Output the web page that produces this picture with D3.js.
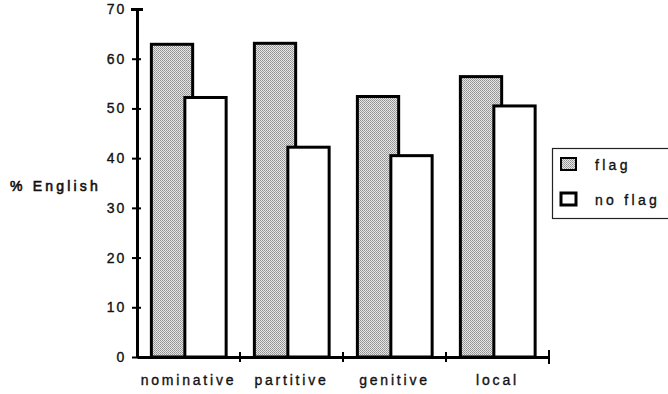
<!DOCTYPE html>
<html><head><meta charset="utf-8">
<script src="https://cdn.jsdelivr.net/npm/d3@7"></script>
<style>
body{margin:0;background:#fff;}
svg{display:block;}
text{font-family:"Liberation Sans",Arial,Helvetica,sans-serif;fill:#111;stroke:#111;stroke-width:0.35px;}
</style></head>
<body>
<svg id="chart" width="668" height="394"></svg>
<script>
const categories = ["nominative","partitive","genitive","local"];
const flagValues = [62.9, 63.1, 52.4, 56.4];
const noFlagValues = [52.2, 42.2, 40.5, 50.5];
const yTicks = [0,10,20,30,40,50,60,70];
const seriesNames = ["flag","no flag"];
const yLabel = "% English";

const svg = d3.select("#chart");
const defs = svg.append("defs");
const pat = defs.append("pattern").attr("id","stip").attr("patternUnits","userSpaceOnUse")
  .attr("width",2).attr("height",2);
pat.append("rect").attr("width",2).attr("height",2).attr("fill","#e6e6e6");
pat.append("rect").attr("width",1).attr("height",1).attr("fill","#909090");
pat.append("rect").attr("x",1).attr("y",1).attr("width",1).attr("height",1).attr("fill","#a0a0a0");

const x = d3.scaleBand().domain(categories).range([137,549]).padding(0);
const y = d3.scaleLinear().domain([0,70]).range([357,9]);
const bw = x.bandwidth();
const sw = 3;

const data = categories.map((c,i)=>({c, flag:flagValues[i], noflag:noFlagValues[i]}));

// flag bars
svg.append("g").selectAll("rect").data(data).join("rect")
  .attr("x", d=>x(d.c)+bw*0.125+sw/2)
  .attr("width", bw*0.43-sw)
  .attr("y", d=>y(d.flag))
  .attr("height", d=>y(0)-y(d.flag))
  .attr("fill","url(#stip)").attr("stroke","#000").attr("stroke-width",sw);
// no flag bars
svg.append("g").selectAll("rect").data(data).join("rect")
  .attr("x", d=>x(d.c)+bw*0.45+sw/2)
  .attr("width", bw*0.43-sw)
  .attr("y", d=>y(d.noflag))
  .attr("height", d=>y(0)-y(d.noflag))
  .attr("fill","#fff").attr("stroke","#000").attr("stroke-width",sw);

// y axis
const yAxis = svg.append("g").attr("transform","translate(137,0)")
  .call(d3.axisLeft(y).tickValues(yTicks).tickSize(5).tickSizeOuter(0).tickPadding(6));
yAxis.select(".domain").attr("stroke","#000").attr("stroke-width",3);
yAxis.selectAll(".tick line").attr("x1",4).attr("x2",-5).attr("stroke","#000").attr("stroke-width",2);
yAxis.selectAll(".tick text").attr("font-size",14).attr("letter-spacing","1.8px")
  .style("font-family","'Liberation Sans',Arial,sans-serif").attr("fill","#111");
yAxis.select(".tick:last-of-type line").attr("x1",6).attr("x2",-6).attr("stroke-width",3);

// x axis
const xAxis = svg.append("g").attr("transform","translate(0,357)")
  .call(d3.axisBottom(x).tickSize(0).tickPadding(18));
xAxis.select(".domain").attr("stroke","#000").attr("stroke-width",3);
xAxis.selectAll(".tick text").attr("font-size",14).attr("letter-spacing","2.8px")
  .style("font-family","'Liberation Sans',Arial,sans-serif").attr("fill","#111");
// boundary ticks
svg.append("g").selectAll("line").data(categories).join("line")
  .attr("x1", d=>x(d)+bw).attr("x2", d=>x(d)+bw)
  .attr("y1", (d,i)=> i===categories.length-1 ? 350 : 352)
  .attr("y2", (d,i)=> i===categories.length-1 ? 364 : 362)
  .attr("stroke","#000").attr("stroke-width",2);

// y label
svg.append("text").attr("x",10).attr("y",191).attr("font-size",14)
  .style("stroke-width","0.6px")
  .attr("letter-spacing","3.2px").attr("xml:space","preserve").text(yLabel);

// legend
const lg = svg.append("g");
lg.append("rect").attr("x",552.5).attr("y",148.5).attr("width",140).attr("height",70)
  .attr("fill","#fff").attr("stroke","#222").attr("stroke-width",1.2);
const items = [{n:seriesNames[0], fill:"url(#stip)", sw:2, y:157},{n:seriesNames[1], fill:"#fff", sw:3, y:192}];
lg.selectAll("rect.sw").data(items).join("rect").attr("class","sw")
  .attr("x",561).attr("y",d=>d.y+1).attr("width",15).attr("height",12)
  .attr("fill",d=>d.fill).attr("stroke","#000").attr("stroke-width",d=>d.sw);
lg.selectAll("text").data(items).join("text")
  .attr("x",595).attr("y",d=>d.y+13).attr("font-size",14).attr("letter-spacing","3.3px")
  .text(d=>d.n);
</script>
</body></html>
